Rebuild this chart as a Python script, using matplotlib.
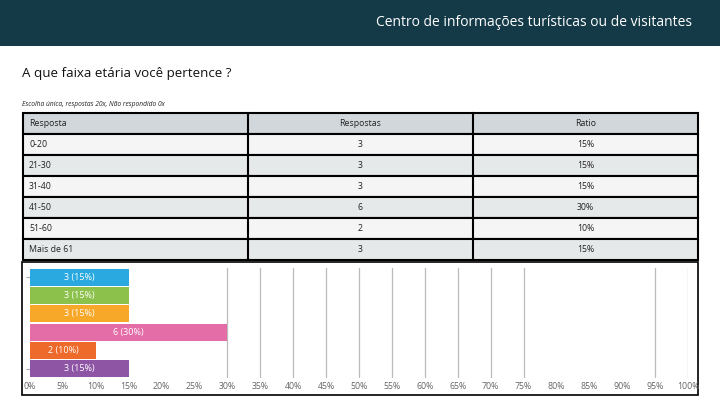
import matplotlib
matplotlib.use('Agg')
import matplotlib.pyplot as plt
from matplotlib.patches import Rectangle
from matplotlib.ticker import FuncFormatter

plt.rcParams['font.family'] = ['Open Sans', 'DejaVu Sans']

# Dados
faixas = ['0-20', '21-30', '31-40', '41-50', '51-60', 'Mais de 61']
respostas = [3, 3, 3, 6, 2, 3]
ratio = [15, 15, 15, 30, 10, 15]
cores = ['#29a9e0', '#8cc14b', '#f8a829', '#e46da8', '#ee6a2b', '#8e55a5']
colunas = ['Resposta', 'Respostas', 'Ratio']

W, H = 720, 405
fig = plt.figure(figsize=(7.2, 4.05), dpi=100)

# Camada de fundo em pixels
ax0 = fig.add_axes([0, 0, 1, 1])
ax0.set_xlim(0, W)
ax0.set_ylim(H, 0)
ax0.axis('off')

# Faixa do cabeçalho
ax0.add_patch(Rectangle((0, 0), W, 46, facecolor='#143a48', edgecolor='none'))
ax0.text(692, 23, 'Centro de informações turísticas ou de visitantes', color='white',
         ha='right', va='center', fontsize=10)

ax0.text(22, 73, 'A que faixa etária você pertence ?', ha='left', va='center',
         fontsize=9.6, color='#111111')
ax0.text(22, 104, 'Escolha única, respostas 20x, Não respondido 0x', ha='left', va='center',
         fontsize=4.8, style='italic', color='#222222')

# Tabela
tx = [23, 248, 473, 698]
ty0, rh = 113, 21
linhas = [[f, str(r), f'{p}%'] for f, r, p in zip(faixas, respostas, ratio)]
for i, row in enumerate([colunas] + linhas):
    y = ty0 + i * rh
    bg = '#d1d7db' if i == 0 else ('#f5f5f5' if i % 2 == 1 else '#e6e9ea')
    ax0.add_patch(Rectangle((tx[0], y), tx[3] - tx[0], rh, facecolor=bg,
                            edgecolor='black', linewidth=1.5))
    ax0.text(tx[0] + 6, y + rh / 2, row[0], ha='left', va='center', fontsize=6.3, color='#222222')
    ax0.text((tx[1] + tx[2]) / 2, y + rh / 2, row[1], ha='center', va='center', fontsize=6.3,
             color='#222222')
    ax0.text((tx[2] + tx[3]) / 2, y + rh / 2, row[2], ha='center', va='center', fontsize=6.3,
             color='#222222')
for x in tx[1:3]:
    ax0.plot([x, x], [ty0, ty0 + rh * 7], color='black', linewidth=1.5)

# Moldura do gráfico
ax0.add_patch(Rectangle((22, 262), 676, 133, facecolor='none', edgecolor='black', linewidth=1.2))

# Gráfico de barras
ax = fig.add_axes([30 / W, 1 - 378 / H, 658 / W, 110 / H])
ypos = list(range(len(faixas)))
ax.barh(ypos, ratio, height=0.92, color=cores, zorder=2)
for y, r, p in zip(ypos, respostas, ratio):
    ax.text(p / 2, y, f'{r} ({p}%)', ha='center', va='center', color='white', fontsize=6.5,
            zorder=3)
ax.set_xlim(0, 100)
ax.set_ylim(len(faixas) - 0.5, -0.5)
ax.set_xticks(range(0, 101, 5))
ax.xaxis.set_major_formatter(FuncFormatter(lambda v, _: f'{int(v)}%'))
ax.tick_params(axis='x', length=0, labelsize=6.3, labelcolor='#666666', pad=3)
ax.set_yticks([ypos[0], ypos[-1]])
ax.set_yticklabels([])
ax.tick_params(axis='y', length=3, color='#aaaaaa', width=0.8)
for s in ax.spines.values():
    s.set_visible(False)
for g in [30, 35, 40, 45, 50, 55, 60, 65, 70, 75, 95, 100]:
    ax.axvline(g, color='#bbbbbb', linewidth=0.9, zorder=1)

fig.savefig('out.png', dpi=100)
